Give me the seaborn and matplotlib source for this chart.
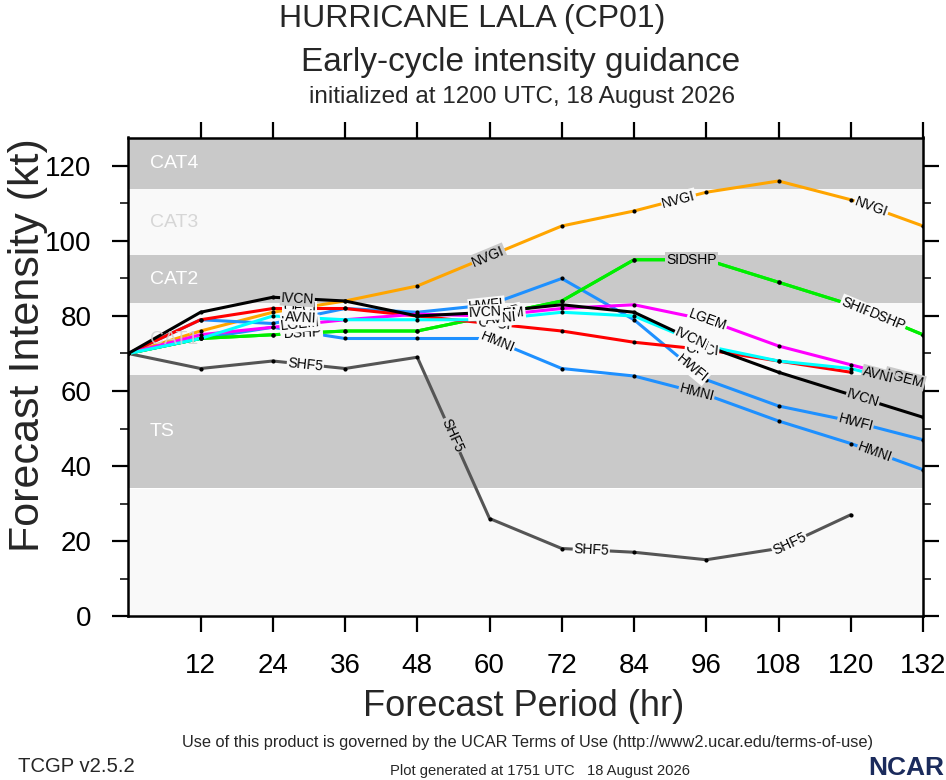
import numpy as np
import pandas as pd
import matplotlib
matplotlib.use("Agg")
import matplotlib.pyplot as plt
from matplotlib import font_manager
from matplotlib.ticker import MultipleLocator, FixedLocator
import seaborn as sns

# ---------------- data ----------------
HOURS = [0, 12, 24, 36, 48, 60, 72, 84, 96, 108, 120, 132]
IVCN = [70, 81, 85, 84, 80, 81, 83, 81, 72, 65, 59, 53]
OFCI = [70, 79, 82, 82, 80, 78, 76, 73, 71, 68, 65, np.nan]
AVNI = [70, 74, 80, 79, 79, 79, 81, 80, 72, 68, 66, 61]
LGEM = [70, 75, 77, 79, 80.5, 80, 82, 83, 79, 72, 67, 62]
SHIP = [70, 74, 75, 76, 76, 80, 84, 95, 95, 89, 83, 75]
DSHP = [70, 74, 75, 76, 76, 80, 84, 95, 95, 89, 83, 75]
HWFI = [70, 79, 78, 82, 81, 83, 90, 79, 63, 56, 52, 47]
HMNI = [70, 74, 77, 74, 74, 74, 66, 64, 59, 52, 46, 39]
NVGI = [70, 76, 81, 84, 88, 96, 104, 108, 113, 116, 111, 104]
SHF5 = [70, 66, 68, 66, 69, 26, 18, 17, 15, 18, 27, np.nan]

MODELS = ["SHF5", "NVGI", "HMNI", "HWFI", "SHIP", "DSHP", "OFCI", "LGEM", "AVNI", "IVCN"]
SERIES = {"IVCN": IVCN, "OFCI": OFCI, "AVNI": AVNI, "LGEM": LGEM, "SHIP": SHIP,
          "DSHP": DSHP, "HWFI": HWFI, "HMNI": HMNI, "NVGI": NVGI, "SHF5": SHF5}
COLORS = {"IVCN": "#000000", "OFCI": "#ff0000", "AVNI": "#00ffff", "LGEM": "#ff00ff",
          "SHIP": "#00ee00", "DSHP": "#00ee00", "HWFI": "#1e90ff", "HMNI": "#1e90ff",
          "NVGI": "#ffa500", "SHF5": "#555555"}

# intensity bands (lower bound, upper bound, name)
BAND_NAMES = ["", "TS", "CAT1", "CAT2", "CAT3", "CAT4"]
BAND_LOW = [0, 34.0, 64.3, 83.4, 96.3, 113.8]
BAND_HIGH = [34.0, 64.3, 83.4, 96.3, 113.8, 127.6]

XTICKS = [12, 24, 36, 48, 60, 72, 84, 96, 108, 120, 132]
YTICKS = [0, 20, 40, 60, 80, 100, 120]

# label placement along each line (forecast hour)
LABEL_AT = {
    "NVGI": [59.8, 91.4, 123.4],
    "SHF5": [29.4, 53.8, 76.9, 109.8],
    "IVCN": [28.1, 59.3, 93.4, 122.0],
    "OFCI": [28.5, 60.8, 95.3],
    "AVNI": [28.6, 62.0, 94.0, 124.5],
    "HWFI": [28.4, 59.5, 93.7, 120.8],
    "HMNI": [28.5, 61.3, 94.4, 124.0],
    "LGEM": [28.5, 62.6, 96.2, 129.0],
    "SHIP": [28.5, 60.5, 92.0, 121.0],
    "DSHP": [29.0, 62.0, 94.6, 126.0],
}

# ---------------- style ----------------
sns.set_style("white")
avail = {f.name for f in font_manager.fontManager.ttflist}
MAIN = ["Liberation Sans", "DejaVu Sans"]
NARROW = ["Liberation Sans Narrow", "Liberation Sans", "DejaVu Sans"] if "Liberation Sans Narrow" in avail else MAIN
plt.rcParams["font.family"] = MAIN

GRAY = "#c9c9c9"
LIGHT = "#f9f9f9"


def band_color(i):
    return GRAY if i % 2 == 1 else LIGHT


def band_color_at(y):
    for i in range(len(BAND_LOW)):
        if BAND_LOW[i] <= y < BAND_HIGH[i]:
            return band_color(i)
    return LIGHT


fig = plt.figure(figsize=(9.46, 7.8), dpi=100)
ax = fig.add_axes([128.3 / 946, 1 - 616 / 780, (923 - 128.3) / 946, (616 - 137.5) / 780])
ax.set_xlim(0, 132)
ax.set_ylim(0, 127.6)

for i, (lo, hi, nm) in enumerate(zip(BAND_LOW, BAND_HIGH, BAND_NAMES)):
    ax.axhspan(lo, hi, color=band_color(i), lw=0, zorder=0)
    if nm:
        light_band = (i % 2 == 0)
        ax.text(3.6, (lo + hi) / 2, nm, ha="left", va="center", fontsize=14,
                color=("#d0d0d0" if light_band else "white"),
                alpha=(0.85 if light_band else 1.0),
                zorder=(2.2 if nm == "CAT1" else 0.5))

rows = []
for m in MODELS:
    for h, v in zip(HOURS, SERIES[m]):
        if not np.isnan(v):
            rows.append({"hour": h, "vmax": v, "model": m})
df = pd.DataFrame(rows)

sns.lineplot(data=df, x="hour", y="vmax", hue="model", hue_order=MODELS,
             palette=COLORS, lw=2.2, legend=False, sort=False, errorbar=None,
             estimator=None, units="model", ax=ax, zorder=2)
sns.scatterplot(data=df, x="hour", y="vmax", color="black", s=9, linewidth=0,
                legend=False, ax=ax, zorder=2.5)


def add_label(name, hr):
    vals = np.array(SERIES[name], dtype=float)
    hrs = np.array(HOURS, dtype=float)
    ok = ~np.isnan(vals)
    hrs, vals = hrs[ok], vals[ok]
    y = float(np.interp(hr, hrs, vals))
    i = int(np.clip(np.searchsorted(hrs, hr), 1, len(hrs) - 1))
    p1 = ax.transData.transform((hrs[i - 1], vals[i - 1]))
    p2 = ax.transData.transform((hrs[i], vals[i]))
    ang = np.degrees(np.arctan2(p2[1] - p1[1], p2[0] - p1[0]))
    ax.text(hr, y, name, rotation=ang, rotation_mode="anchor", ha="center", va="center",
            fontsize=10, color="black", zorder=3,
            bbox=dict(boxstyle="square,pad=0.06", fc=band_color_at(y), ec="none"))


for m in MODELS:
    for hr in LABEL_AT[m]:
        add_label(m, hr)

# axes / ticks
ax.xaxis.set_major_locator(FixedLocator(XTICKS))
ax.yaxis.set_major_locator(FixedLocator(YTICKS))
ax.yaxis.set_minor_locator(MultipleLocator(10))
ax.tick_params(axis="both", which="major", direction="out", length=11.5, width=1.6,
               labelsize=20, top=True, right=True, bottom=True, left=True,
               colors="black")
ax.tick_params(axis="x", which="major", pad=15)
ax.tick_params(axis="y", which="major", pad=15)
ax.tick_params(axis="y", which="minor", direction="out", length=6, width=1.3,
               left=True, right=True)
ax.tick_params(axis="x", which="minor", bottom=False, top=False)
for s in ax.spines.values():
    s.set_linewidth(1.8)
    s.set_color("black")
    s.set_visible(True)
ax.set_xlabel("")
ax.set_ylabel("")
fig.text(524 / 946, 1 - 706 / 780, "Forecast Period (hr)", ha="center", va="center", fontsize=26)
fig.text(28 / 946, 1 - 345 / 780, "Forecast Intensity (kt)", ha="center", va="center",
         rotation=90, fontsize=31)

# titles
fig.text(472 / 946, 1 - 19 / 780, "HURRICANE LALA (CP01)", ha="center", va="center", fontsize=23)
fig.text(521 / 946, 1 - 62 / 780, "Early-cycle intensity guidance", ha="center", va="center", fontsize=24)
fig.text(522 / 946, 1 - 97 / 780, "initialized at 1200 UTC, 18 August 2026", ha="center", va="center", fontsize=17.5)

# footer
fig.text(527 / 946, 1 - 742 / 780,
         "Use of this product is governed by the UCAR Terms of Use (http://www2.ucar.edu/terms-of-use)",
         ha="center", va="center", fontsize=11.8, family=NARROW)
fig.text(18 / 946, 1 - 766 / 780, "TCGP v2.5.2", ha="left", va="center", fontsize=14.6, family=NARROW)
fig.text(540 / 946, 1 - 771 / 780, "Plot generated at 1751 UTC   18 August 2026",
         ha="center", va="center", fontsize=10.6, family=NARROW)
fig.text(944 / 946, 1 - 768 / 780, "NCAR", ha="right", va="center", fontsize=19,
         family=NARROW, color="#1b2b5c", weight="bold")

fig.savefig("out.png", dpi=100)
